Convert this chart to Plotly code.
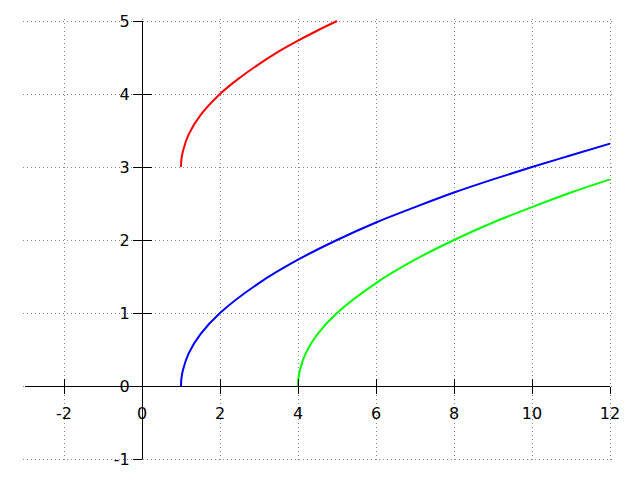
import plotly.graph_objects as go

# Values
red_x = [1.0, 1.01, 1.05, 1.2, 1.5, 2.0, 2.5, 3.0, 3.5, 4.0, 4.5, 5.0]
red_y = [3.0, 3.1, 3.22, 3.45, 3.71, 4.0, 4.22, 4.41, 4.58, 4.73, 4.87, 5.0]

blue_x = [1.0, 1.01, 1.05, 1.2, 1.5, 2.0, 3.0, 4.0, 5.0, 6.0, 7.0, 8.0, 9.0, 10.0, 11.0, 12.0]
blue_y = [0.0, 0.1, 0.22, 0.45, 0.71, 1.0, 1.41, 1.73, 2.0, 2.24, 2.45, 2.65, 2.83, 3.0, 3.16, 3.32]

green_x = [4.0, 4.01, 4.05, 4.2, 4.5, 5.0, 6.0, 7.0, 8.0, 9.0, 10.0, 11.0, 12.0]
green_y = [0.0, 0.1, 0.22, 0.45, 0.71, 1.0, 1.41, 1.73, 2.0, 2.24, 2.45, 2.65, 2.83]

x_ticks = [-2, 0, 2, 4, 6, 8, 10, 12]
x_tick_labels = ["-2", "0", "2", "4", "6", "8", "10", "12"]
y_ticks = [-1, 0, 1, 2, 3, 4, 5]
y_tick_labels = ["-1", "0", "1", "2", "3", "4", "5"]

x_range = [-3, 12]
y_range = [-1, 5]

# ---- layout geometry ----
W, H = 640, 480
inner_w, inner_h = 585, 438          # size of the axes box
pad = 2                               # extra px around the box so edge grid lines are drawn
ml, mt = 15, 11
mr = W - ml - inner_w - 2 * pad
mb = H - mt - inner_h - 2 * pad
box_w, box_h = inner_w + 2 * pad, inner_h + 2 * pad
ux = (x_range[1] - x_range[0]) / inner_w
uy = (y_range[1] - y_range[0]) / inner_h
x_range_pad = [x_range[0] - pad * ux, x_range[1] + pad * ux]
y_range_pad = [y_range[0] - pad * uy, y_range[1] + pad * uy]
x_dom = [pad / box_w, 1 - pad / box_w]
y_dom = [pad / box_h, 1 - pad / box_h]
xaxis_pos = (pad + (0 - y_range[0]) / (y_range[1] - y_range[0]) * inner_h) / box_h
yaxis_pos = (pad + (0 - x_range[0]) / (x_range[1] - x_range[0]) * inner_w) / box_w

fig = go.Figure()
for xs, ys, col in [(red_x, red_y, "#ff0000"), (blue_x, blue_y, "#0000ff"), (green_x, green_y, "#00ff00")]:
    fig.add_trace(go.Scatter(x=xs, y=ys, mode="lines", line=dict(color=col, width=2, shape="spline"),
                             showlegend=False, hoverinfo="skip"))
# empty traces for the axis subplots
fig.add_trace(go.Scatter(x=[], y=[], xaxis="x2", yaxis="y2", showlegend=False))
fig.add_trace(go.Scatter(x=[], y=[], xaxis="x3", yaxis="y3", showlegend=False))

font = dict(family="DejaVu Sans", size=16, color="black")
grid = dict(showgrid=True, gridcolor="#888888", gridwidth=1, griddash="1px,3px")
hidden = dict(showline=False, ticks="", showticklabels=False, zeroline=False, automargin=False)

fig.update_layout(
    width=W, height=H,
    margin=dict(l=ml, r=mr, t=mt, b=mb, autoexpand=False),
    plot_bgcolor="rgba(0,0,0,0)", paper_bgcolor="white",
    font=font,
    # grid + curves
    xaxis=dict(range=x_range_pad, domain=[0, 1], anchor="y", tickmode="array", tickvals=x_ticks, **hidden, **grid),
    yaxis=dict(range=y_range_pad, domain=[0, 1], anchor="x", tickmode="array", tickvals=y_ticks, **hidden, **grid),
    # axes crossing at the origin, labels + outer tick half
    xaxis2=dict(range=x_range, domain=x_dom, anchor="free", position=xaxis_pos,
                showline=True, linecolor="black", linewidth=1.3,
                ticks="outside", ticklen=7, tickwidth=1.3, tickcolor="black",
                tickmode="array", tickvals=x_ticks, ticktext=x_tick_labels, automargin=False,
                zeroline=False, tickfont=font, ticklabelstandoff=6, showgrid=False),
    yaxis2=dict(range=y_range, domain=y_dom, anchor="free", position=yaxis_pos,
                showline=True, linecolor="black", linewidth=1.3,
                ticks="outside", ticklen=9, tickwidth=1.3, tickcolor="black",
                tickmode="array", tickvals=y_ticks, ticktext=y_tick_labels, automargin=False,
                zeroline=False, tickfont=font, showgrid=False),
    # inner tick half
    xaxis3=dict(overlaying="x2", matches="x2", anchor="free", position=xaxis_pos, showline=False,
                ticks="inside", ticklen=7, tickwidth=1.3, tickcolor="black",
                tickmode="array", tickvals=x_ticks, automargin=False,
                showticklabels=False, zeroline=False, showgrid=False),
    yaxis3=dict(overlaying="y2", matches="y2", anchor="free", position=yaxis_pos, showline=False,
                ticks="inside", ticklen=9, tickwidth=1.3, tickcolor="black",
                tickmode="array", tickvals=y_ticks, automargin=False,
                showticklabels=False, zeroline=False, showgrid=False),
)

fig.write_html("out.html")
